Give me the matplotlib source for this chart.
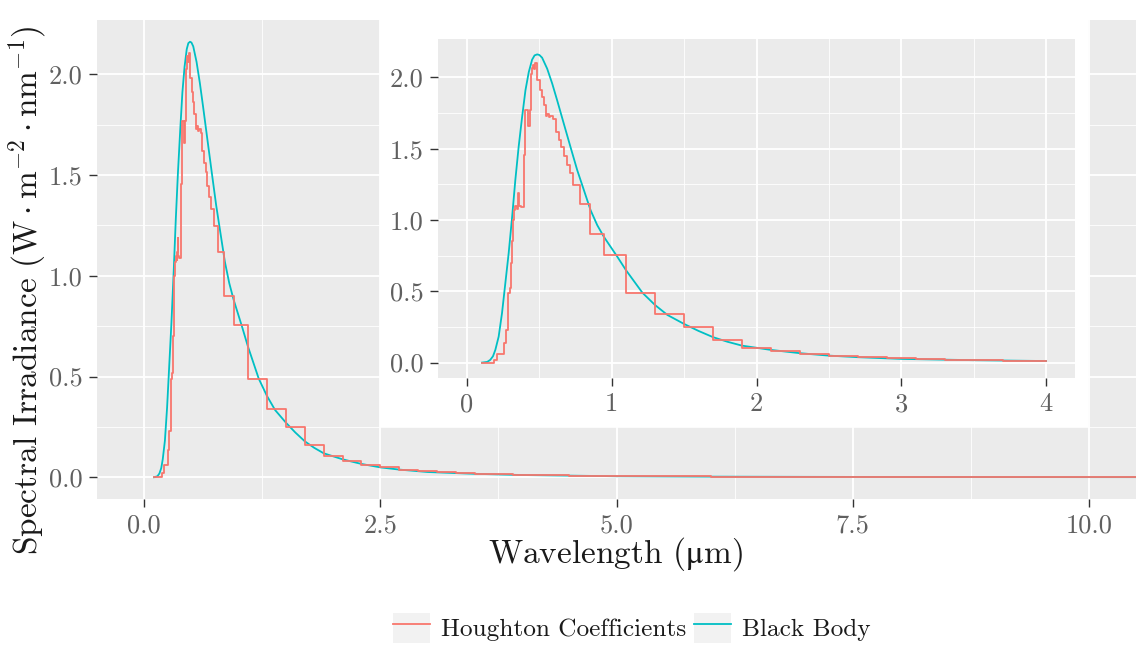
import matplotlib
matplotlib.use("Agg")
import numpy as np
import matplotlib.pyplot as plt
from matplotlib.patches import Rectangle, Patch
from matplotlib.lines import Line2D
from matplotlib.legend_handler import HandlerTuple


# ---------------------------------------------------------------------
# Spectral data
#  -> Houghton coefficients: band start wavelength (um) and irradiance
#  -> black body curve sampled along wavelength (um)
# ---------------------------------------------------------------------

houghton_wl = [0.104, 0.184, 0.208, 0.253, 0.267, 0.281, 0.295, 0.305, 0.314,
               0.320, 0.325, 0.335, 0.345, 0.352, 0.356, 0.362, 0.372, 0.392,
               0.399, 0.424, 0.433, 0.440, 0.450, 0.457, 0.465, 0.472, 0.485,
               0.503, 0.515, 0.531, 0.543, 0.554, 0.565, 0.575, 0.584, 0.596,
               0.612, 0.634, 0.651, 0.669, 0.688, 0.711, 0.734, 0.778, 0.849,
               0.946, 1.101, 1.299, 1.5, 1.701, 1.9, 2.1, 2.3, 2.5, 2.7, 2.9,
               3.1, 3.3, 3.5, 3.7, 3.9, 4.0, 4.5, 5.0, 6.0, 7.0, 8.0, 9.0,
               10.0, 11.0]
houghton_irr = [0.0, 0.019, 0.061, 0.136, 0.229, 0.486, 0.52, 0.70, 0.85,
                1.0, 1.07, 1.10, 1.08, 1.12, 1.19, 1.10, 1.09, 1.454,
                1.77, 1.66, 1.77, 2.027, 2.066, 2.09, 2.06, 2.104, 1.98,
                1.914, 1.863, 1.805, 1.73, 1.745, 1.72, 1.73, 1.73, 1.711,
                1.618, 1.56, 1.513, 1.447, 1.389, 1.331, 1.249, 1.116, 0.901,
                0.754, 0.49, 0.341, 0.248, 0.159, 0.105, 0.08, 0.063, 0.049,
                0.038, 0.031, 0.024, 0.019, 0.016, 0.014, 0.012, 0.011, 0.008,
                0.005, 0.003, 0.002, 0.0015, 0.001, 0.0007, 0.0005]

bb_wl = [0.104, 0.14, 0.161, 0.18, 0.196, 0.219, 0.242, 0.265, 0.288, 0.312,
         0.334, 0.357, 0.381, 0.404, 0.427, 0.45, 0.467, 0.485, 0.50, 0.519,
         0.554, 0.589, 0.623, 0.669, 0.715, 0.762, 0.808, 0.854, 0.90, 0.946,
         1.039, 1.098, 1.212, 1.299, 1.385, 1.5, 1.6, 1.701, 1.8, 1.9, 2.1,
         2.3, 2.5, 2.7, 3.0, 3.5, 4.0, 5.0, 6.0, 7.0, 8.0, 9.0, 10.0, 11.0]
bb_irr = [0.0, 0.005, 0.019, 0.045, 0.089, 0.182, 0.346, 0.556, 0.766, 1.022,
          1.279, 1.513, 1.723, 1.910, 2.038, 2.125, 2.155, 2.162, 2.158, 2.139,
          2.062, 1.957, 1.84, 1.676, 1.513, 1.349, 1.209, 1.069, 0.964, 0.882,
          0.742, 0.649, 0.49, 0.404, 0.334, 0.271, 0.222, 0.178, 0.146, 0.119,
          0.089, 0.066, 0.049, 0.038, 0.026, 0.017, 0.011, 0.005, 0.003, 0.002,
          0.0013, 0.0009, 0.0006, 0.0004]

# Axis ticks
main_xticks = [0, 2.5, 5, 7.5, 10]
main_xlabels = ["0.0", "2.5", "5.0", "7.5", "10.0"]
inset_xticks = [0, 1, 2, 3, 4]
inset_xlabels = ["0", "1", "2", "3", "4"]
yticks = [0, 0.5, 1.0, 1.5, 2.0]
ylabels = ["0.0", "0.5", "1.0", "1.5", "2.0"]

series_names = ["Houghton Coefficients", "Black Body"]

# Colours
colour_houghton = "#F8766D"
colour_bb = "#00BFC4"
panel_bg = "#EBEBEB"
key_bg = "#F2F2F2"
tick_text = "#606060"

plt.rcParams["font.family"] = ["cmr10", "DejaVu Serif"]
plt.rcParams["mathtext.fontset"] = "cm"
plt.rcParams["axes.unicode_minus"] = False

W, H = 1140, 649


def fig_box(left, top, right, bottom):
    """pixel box -> figure fraction [x, y, w, h]"""
    return [left / W, 1 - bottom / H, (right - left) / W, (bottom - top) / H]


def style_panel(ax, xticks, xlabels, xlim):
    """grey panel with white grid, roughly like ggplot's theme_gray"""
    ax.set_facecolor(panel_bg)
    for s in ax.spines.values():
        s.set_visible(False)
    ax.set_xlim(xlim)
    ax.set_ylim(-0.108, 2.27)
    ax.set_xticks(xticks)
    ax.set_xticklabels(xlabels)
    ax.set_xticks([(a + b) / 2 for a, b in zip(xticks[:-1], xticks[1:])], minor=True)
    ax.set_yticks(yticks)
    ax.set_yticklabels(ylabels)
    ax.set_yticks([(a + b) / 2 for a, b in zip(yticks[:-1], yticks[1:])], minor=True)
    ax.grid(which="major", color="white", lw=1.3)
    ax.grid(which="minor", color="white", lw=0.6)
    ax.set_axisbelow(True)
    ax.tick_params(which="major", length=5.8, width=1.0, color="#333333",
                   labelcolor=tick_text, labelsize=19, pad=4.5)
    ax.tick_params(which="minor", length=0)


def draw_series(ax, wl_max=None):
    wl_h = np.array(houghton_wl)
    irr_h = np.array(houghton_irr)
    wl_b = np.array(bb_wl)
    irr_b = np.array(bb_irr)
    if wl_max is not None:
        wl_h, irr_h = wl_h[wl_h <= wl_max], irr_h[wl_h <= wl_max]
        wl_b, irr_b = wl_b[wl_b <= wl_max], irr_b[wl_b <= wl_max]
    # black body underneath, band steps on top
    ax.plot(wl_b, irr_b, color=colour_bb, lw=1.3)
    ax.plot(wl_h, irr_h, drawstyle="steps-post", color=colour_houghton, lw=1.3)


def plot_spectrum():
    fig = plt.figure(figsize=(W / 100, H / 100), dpi=100)

    ax = fig.add_axes(fig_box(97, 20, 1136, 499))
    ax.set_zorder(0)
    style_panel(ax, main_xticks, main_xlabels, (-0.5, 10.5))
    draw_series(ax)

    # white backing for the zoomed inset
    fig.add_artist(Rectangle((380 / W, 1 - 427 / H), 708 / W, 407 / H,
                             transform=fig.transFigure, facecolor="white",
                             edgecolor="none", zorder=1))

    ins = fig.add_axes(fig_box(438, 39, 1075, 378))
    ins.set_zorder(2)
    style_panel(ins, inset_xticks, inset_xlabels, (-0.2, 4.2))
    draw_series(ins, wl_max=4.0)

    fig.text(616 / W, 1 - 563 / H, r"Wavelength ($\mathrm{\mu}$m)",
             math_fontfamily="stix", ha="center", va="baseline",
             fontsize=24, color="#1A1A1A")
    fig.text(28 / W, 1 - 555 / H,
             r"Spectral Irradiance $(\mathrm{W}\cdot\mathrm{m}^{-2}\cdot\mathrm{nm}^{-1})$",
             rotation=90, ha="center", va="bottom", fontsize=24, color="#1A1A1A")

    handles = [(Patch(facecolor=key_bg, edgecolor="none"),
                Line2D([], [], color=c, lw=1.3))
               for c in (colour_houghton, colour_bb)]
    fig.legend(handles, series_names, loc="center",
               bbox_to_anchor=(632 / W, 1 - 628 / H), ncol=2, frameon=False,
               handler_map={tuple: HandlerTuple(ndivide=1, pad=0)},
               fontsize=18.2, handlelength=1.45, handleheight=1.5,
               handletextpad=0.45, columnspacing=0.3, borderpad=0,
               labelcolor="#1A1A1A")

    fig.savefig("out.png", dpi=100)


if __name__ == "__main__":
    plot_spectrum()
